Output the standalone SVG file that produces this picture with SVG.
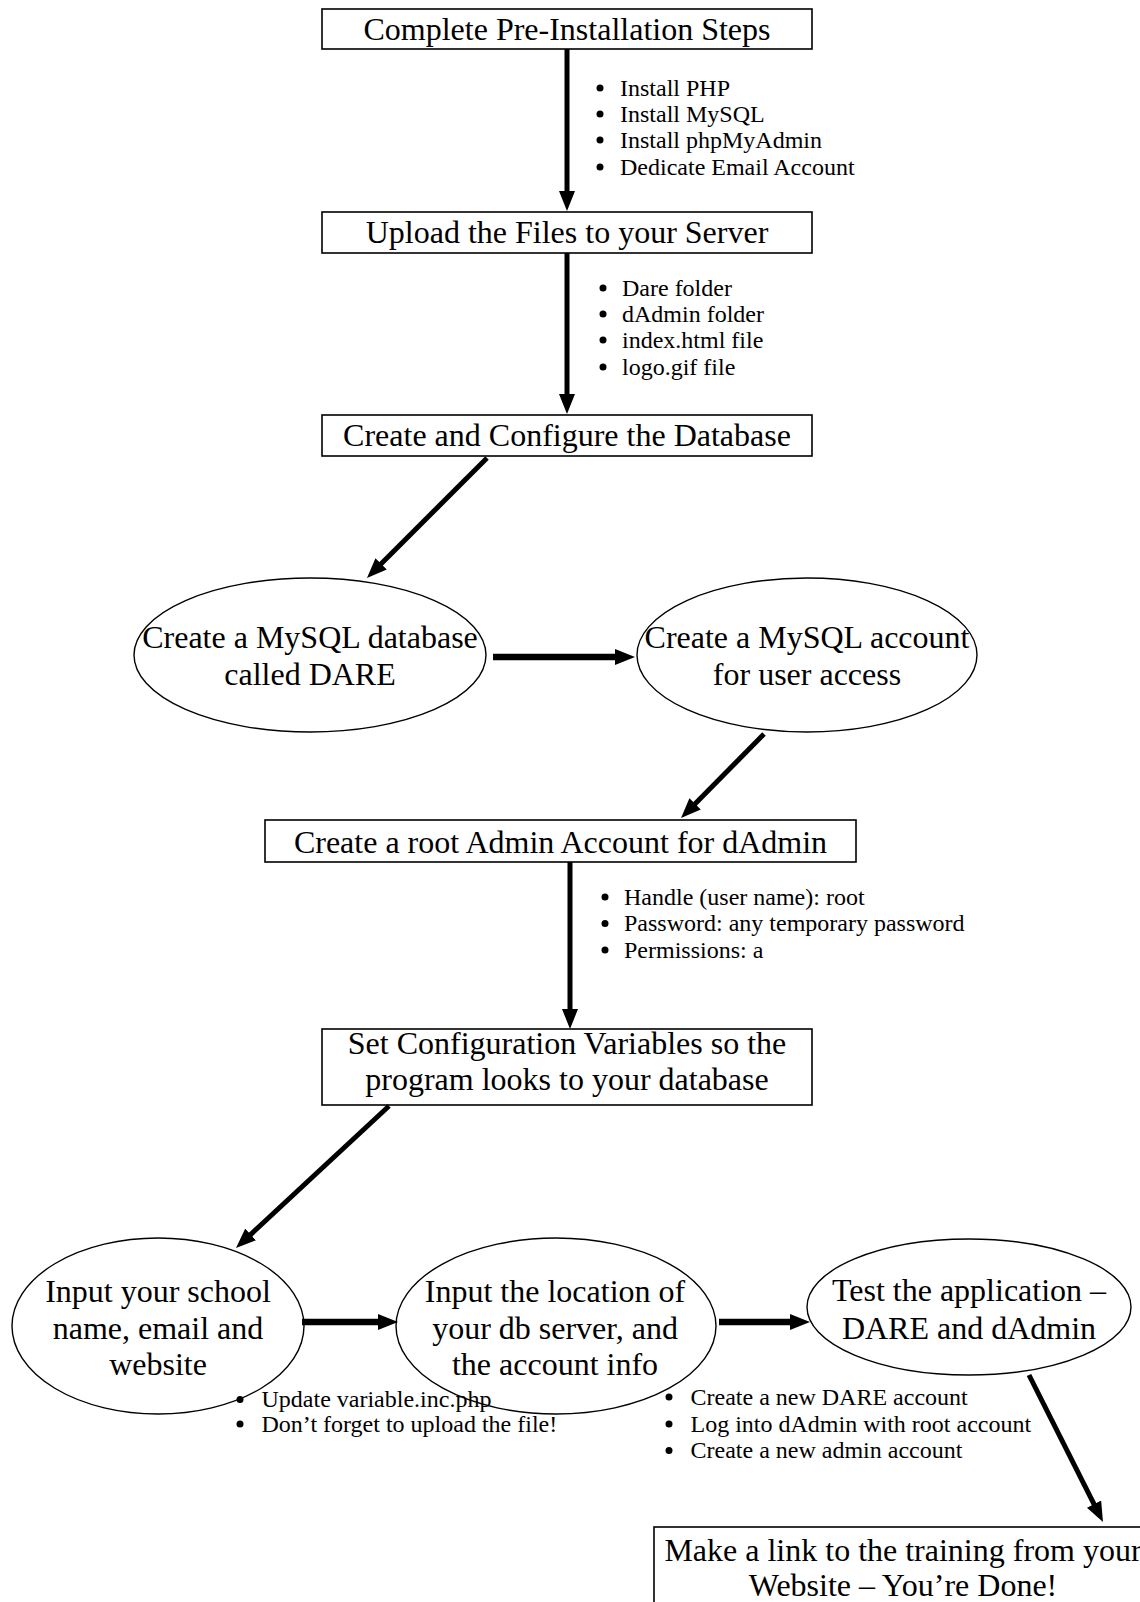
<svg xmlns="http://www.w3.org/2000/svg" width="1140" height="1602" viewBox="0 0 1140 1602">
<style>
.box{fill:#fff;stroke:#000;stroke-width:1.6}
.ell{fill:#fff;stroke:#000;stroke-width:1.4}
.t{font-family:"Liberation Serif","Times New Roman",serif;font-size:32px;fill:#000;text-anchor:middle}
.b{font-family:"Liberation Serif","Times New Roman",serif;font-size:24px;fill:#000}
.c{stroke:#000;stroke-width:5;fill:none}
.h{stroke:#000;stroke-width:6.5;fill:none}
</style>
<defs>
<marker id="ah" markerUnits="userSpaceOnUse" markerWidth="20" markerHeight="16" refX="2" refY="8" orient="auto">
<path d="M0,0 L20,8 L0,16 z" fill="#000"/>
</marker>
</defs>
<rect width="1140" height="1602" fill="#fff"/>
<g id="n1">
<rect class="box" x="322" y="9" width="490" height="40"/>
<text class="t" x="567" y="40">Complete Pre-Installation Steps</text>
</g>
<g id="notes1">
<circle cx="600" cy="88" r="3.5"/><circle cx="600" cy="114" r="3.5"/><circle cx="600" cy="140" r="3.5"/><circle cx="600" cy="167" r="3.5"/>
<text class="b" x="620" y="96">Install PHP</text>
<text class="b" x="620" y="122">Install MySQL</text>
<text class="b" x="620" y="148">Install phpMyAdmin</text>
<text class="b" x="620" y="175">Dedicate Email Account</text>
</g>
<g id="n2">
<rect class="box" x="322" y="212" width="490" height="41"/>
<text class="t" x="567" y="243">Upload the Files to your Server</text>
</g>
<g id="notes2">
<circle cx="603" cy="288" r="3.5"/><circle cx="603" cy="314" r="3.5"/><circle cx="603" cy="340" r="3.5"/><circle cx="603" cy="367" r="3.5"/>
<text class="b" x="622" y="296">Dare folder</text>
<text class="b" x="622" y="322">dAdmin folder</text>
<text class="b" x="622" y="348">index.html file</text>
<text class="b" x="622" y="375">logo.gif file</text>
</g>
<g id="n3">
<rect class="box" x="322" y="415" width="490" height="41"/>
<text class="t" x="567" y="446">Create and Configure the Database</text>
</g>
<g id="n4">
<ellipse class="ell" cx="310" cy="655" rx="176" ry="77"/>
<text class="t" x="310" y="648">Create a MySQL database</text>
<text class="t" x="310" y="685">called DARE</text>
</g>
<g id="n5">
<ellipse class="ell" cx="807" cy="655" rx="170" ry="77"/>
<text class="t" x="807" y="648">Create a MySQL account</text>
<text class="t" x="807" y="685">for user access</text>
</g>
<g id="n6">
<rect class="box" x="265" y="820" width="591" height="42"/>
<text class="t" x="560.5" y="853">Create a root Admin Account for dAdmin</text>
</g>
<g id="notes3">
<circle cx="605" cy="897" r="3.5"/><circle cx="605" cy="923.5" r="3.5"/><circle cx="605" cy="950" r="3.5"/>
<text class="b" x="624" y="905">Handle (user name): root</text>
<text class="b" x="624" y="931">Password: any temporary password</text>
<text class="b" x="624" y="958">Permissions: a</text>
</g>
<g id="n7">
<rect class="box" x="322" y="1029" width="490" height="76"/>
<text class="t" x="567" y="1054">Set Configuration Variables so the</text>
<text class="t" x="567" y="1090">program looks to your database</text>
</g>
<g id="n8">
<ellipse class="ell" cx="158" cy="1326" rx="146" ry="88"/>
<text class="t" x="158" y="1302">Input your school</text>
<text class="t" x="158" y="1339">name, email and</text>
<text class="t" x="158" y="1375">website</text>
</g>
<g id="n9">
<ellipse class="ell" cx="556" cy="1326" rx="160" ry="88"/>
<text class="t" x="555" y="1302">Input the location of</text>
<text class="t" x="555" y="1339">your db server, and</text>
<text class="t" x="555" y="1375">the account info</text>
</g>
<g id="n10">
<ellipse class="ell" cx="969" cy="1307" rx="162" ry="68"/>
<text class="t" x="969" y="1301">Test the application –</text>
<text class="t" x="969" y="1339">DARE and dAdmin</text>
</g>
<g id="notes4">
<circle cx="240" cy="1399.5" r="3.5"/><circle cx="240" cy="1424" r="3.5"/>
<text class="b" x="261.5" y="1407">Update variable.inc.php</text>
<text class="b" x="261.5" y="1432">Don’t forget to upload the file!</text>
</g>
<g id="notes5">
<circle cx="669" cy="1397" r="3.5"/><circle cx="669" cy="1424" r="3.5"/><circle cx="669" cy="1450.5" r="3.5"/>
<text class="b" x="690.5" y="1405">Create a new DARE account</text>
<text class="b" x="690.5" y="1432">Log into dAdmin with root account</text>
<text class="b" x="690.5" y="1458">Create a new admin account</text>
</g>
<g id="n11">
<rect class="box" x="654" y="1527" width="500" height="100"/>
<text class="t" x="903" y="1561">Make a link to the training from your</text>
<text class="t" x="903" y="1596">Website – You’re Done!</text>
</g>
<g id="connectors">
<line class="c" x1="567" y1="49" x2="567" y2="193" marker-end="url(#ah)"/>
<line class="c" x1="567" y1="253" x2="567" y2="396" marker-end="url(#ah)"/>
<line class="c" x1="487" y1="458" x2="379.7" y2="565.3" marker-end="url(#ah)"/>
<line class="h" x1="493" y1="657" x2="617" y2="657" marker-end="url(#ah)"/>
<line class="c" x1="764" y1="734" x2="693.7" y2="805.2" marker-end="url(#ah)"/>
<line class="c" x1="570" y1="862" x2="570" y2="1011" marker-end="url(#ah)"/>
<line class="c" x1="389" y1="1106" x2="249.2" y2="1235.8" marker-end="url(#ah)"/>
<line class="h" x1="302" y1="1322" x2="380" y2="1322" marker-end="url(#ah)"/>
<line class="h" x1="719" y1="1322" x2="792" y2="1322" marker-end="url(#ah)"/>
<line class="c" x1="1029" y1="1375" x2="1094.9" y2="1505.9" marker-end="url(#ah)"/>
</g>
</svg>
